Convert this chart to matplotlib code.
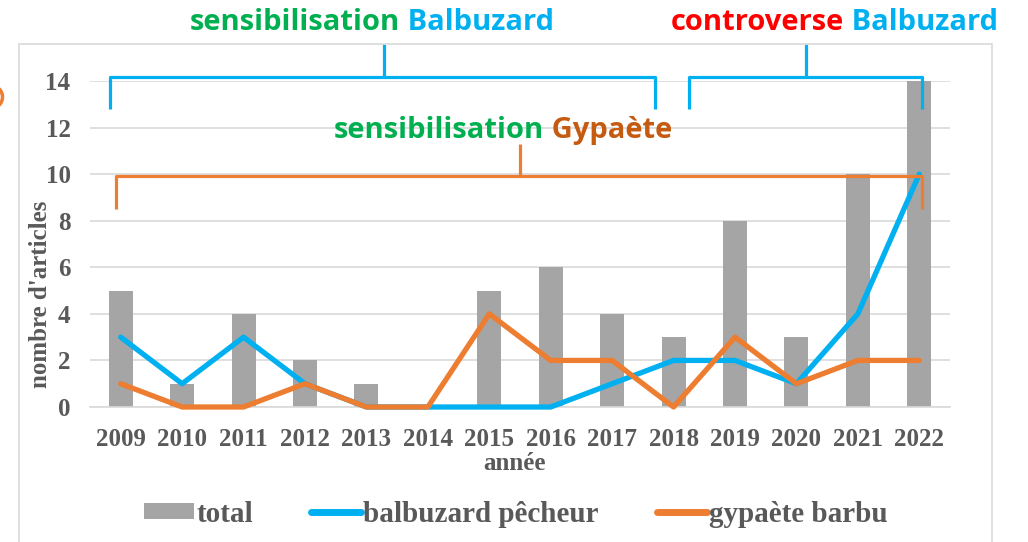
import matplotlib
matplotlib.use("Agg")
import matplotlib.pyplot as plt
import numpy as np
from matplotlib.patches import Rectangle, Circle, Patch
from matplotlib.lines import Line2D
from matplotlib.transforms import IdentityTransform

# data
years = ["2009", "2010", "2011", "2012", "2013", "2014", "2015",
         "2016", "2017", "2018", "2019", "2020", "2021", "2022"]
total = [5, 1, 4, 2, 1, 0, 5, 6, 4, 3, 8, 3, 10, 14]
balbuzard = [3, 1, 3, 1, 0, 0, 0, 0, 1, 2, 2, 1, 4, 10]
gypaete = [1, 0, 0, 1, 0, 0, 4, 2, 2, 0, 3, 1, 2, 2]

GRAY = "#A5A5A5"
BLUE = "#00B0F0"
ORANGE = "#ED7D31"
GREEN = "#00B050"
RED = "#FF0000"
BROWN = "#C55A11"
TXT = "#595959"

W, H = 1028, 542
fig = plt.figure(figsize=(W / 100, H / 100), dpi=100)


def fx(px):
    return px / W


def fy(py):
    return 1 - py / H


# outer chart frame
fig.add_artist(Rectangle((fx(19), fy(600)), fx(992) - fx(19), fy(44) - fy(600),
                         transform=fig.transFigure, fill=False,
                         edgecolor="#D9D9D9", lw=1.2))
# orange shape cut by the left edge
fig.add_artist(Circle((-9, H - 97), 11.5, transform=IdentityTransform(),
                      facecolor="none", edgecolor=ORANGE, lw=2.5))

ax = fig.add_axes([fx(90), fy(407), fx(950) - fx(90), fy(81) - fy(407)])
x = np.arange(len(years))

ax.bar(x, total, width=0.39, color=GRAY, zorder=2, clip_on=False)
ax.plot(x, balbuzard, color=BLUE, lw=3.8, solid_joinstyle="round",
        solid_capstyle="round", zorder=3, clip_on=False)
ax.plot(x, gypaete, color=ORANGE, lw=3.8, solid_joinstyle="round",
        solid_capstyle="round", zorder=4, clip_on=False)

ax.set_xlim(-0.5, 13.5)
ax.set_ylim(0, 14)
ax.set_yticks(range(0, 15, 2))
ax.set_xticks(x)
ax.set_xticklabels(years)
ax.grid(axis="y", color="#D9D9D9", lw=1.2, zorder=0)
ax.set_axisbelow(True)
for s in ["top", "right", "left"]:
    ax.spines[s].set_visible(False)
ax.spines["bottom"].set_color("#D9D9D9")
ax.spines["bottom"].set_linewidth(1.2)
ax.tick_params(length=0, labelcolor=TXT)
ax.tick_params(axis="x", pad=15)
ax.tick_params(axis="y", pad=14)
for lab in ax.get_xticklabels() + ax.get_yticklabels():
    lab.set_fontfamily("Liberation Serif")
    lab.set_fontweight("bold")
    lab.set_fontsize(18)

ax.set_xlabel("année", family="Liberation Serif", weight="bold", fontsize=18,
              color=TXT, va="center")
ax.xaxis.set_label_coords(0.494, -0.172)
ax.set_ylabel("nombre d'articles", family="Liberation Serif", weight="bold",
              fontsize=18, color=TXT, va="center")
ax.yaxis.set_label_coords(-0.058, 0.347)

# brackets (data coordinates, drawn outside axes)
def bracket(x0, x1, y, ylow, xc, ytop, color):
    kw = dict(color=color, lw=2.3, clip_on=False, zorder=5,
              solid_capstyle="butt")
    ax.plot([x0, x0, x1, x1], [ylow, y, y, ylow], **kw)
    ax.plot([xc, xc], [y, ytop], **kw)


bracket(-0.18, 8.69, 14.17, 12.8, 4.28, 15.6, BLUE)
bracket(9.25, 13.04, 14.17, 12.8, 11.15, 15.6, BLUE)
bracket(-0.07, 13.04, 9.92, 8.5, 6.5, 11.3, ORANGE)

# two-colour titles
TFONT = dict(fontsize=21, weight="bold", family="Open Sans")


def two_tone(px, py, a, b, ca, cb):
    t = fig.text(fx(px), fy(py), a, color=ca, ha="left", va="baseline", **TFONT)
    ax.annotate(b, xy=(1, 0), xycoords=t, color=cb, ha="left", va="bottom",
                **TFONT)


two_tone(190, 30, "sensibilisation", " Balbuzard", GREEN, BLUE)
two_tone(671, 30, "controverse", " Balbuzard", RED, BLUE)
two_tone(334, 138, "sensibilisation", " Gypaète", GREEN, BROWN)

# legend
handles = [Patch(facecolor=GRAY, edgecolor="none"),
           Line2D([], [], color=BLUE, lw=5, solid_capstyle="round"),
           Line2D([], [], color=ORANGE, lw=5, solid_capstyle="round")]
leg = fig.legend(handles, ["total", "balbuzard pêcheur", "gypaète barbu"],
                 loc="center", bbox_to_anchor=(fx(516), fy(514)), ncol=3,
                 frameon=False, handlelength=1.7, handleheight=0.5,
                 handletextpad=0.08, columnspacing=2.0,
                 prop=dict(family="Liberation Serif", weight="bold", size=21))
for t in leg.get_texts():
    t.set_color(TXT)

fig.savefig("out.png", dpi=100)
